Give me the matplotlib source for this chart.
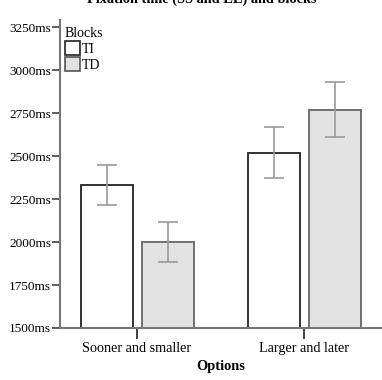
import numpy as np
import matplotlib.pyplot as plt
from matplotlib.patches import Patch

plt.rcParams['font.family'] = ['Liberation Serif', 'DejaVu Serif']

options = ["Sooner and smaller", "Larger and later"]
blocks = ["TI", "TD"]
ti_mean = [2331, 2517]
ti_low = [2215, 2372]
ti_high = [2448, 2669]
td_mean = [2000, 2767]
td_low = [1884, 2610]
td_high = [2116, 2930]

fig = plt.figure(figsize=(3.82, 3.80), dpi=100)
ax = fig.add_axes([60 / 382, (380 - 328) / 380, 322 / 382, 308 / 380])

x = np.arange(len(options))
w = 0.311
err_kw = dict(ecolor="#9a9a9a", elinewidth=1.2, capsize=7, capthick=1.2)

ti_err = [np.array(ti_mean) - np.array(ti_low), np.array(ti_high) - np.array(ti_mean)]
td_err = [np.array(td_mean) - np.array(td_low), np.array(td_high) - np.array(td_mean)]

ax.bar(x - 0.18, np.array(ti_mean) - 1500, w, bottom=1500, color="white",
       edgecolor="#222222", linewidth=1.3, yerr=ti_err, error_kw=err_kw, zorder=2)
ax.bar(x + 0.186, np.array(td_mean) - 1500, w, bottom=1500, color="#e3e3e3",
       edgecolor="#666666", linewidth=1.3, yerr=td_err, error_kw=err_kw, zorder=2)

ax.set_ylim(1500, 3291)
ax.set_xlim(-0.461, 1.467)
yt = np.arange(1500, 3251, 250)
ax.set_yticks(yt)
ax.set_yticklabels([f"{v}ms" for v in yt], fontsize=9.5)
ax.set_xticks(x)
ax.set_xticklabels(options, fontsize=10.2)
ax.tick_params(axis="y", length=6, width=1.2, color="#444444", pad=0.5)
ax.tick_params(axis="x", length=8, width=1.2, color="#222222", pad=2)

for s in ["top", "right"]:
    ax.spines[s].set_visible(False)
ax.spines["left"].set_color("#777777")
ax.spines["left"].set_linewidth(1.5)
ax.spines["bottom"].set_color("#777777")
ax.spines["bottom"].set_linewidth(1.5)

ax.set_xlabel("Options", fontsize=10.4, fontweight="bold", labelpad=4)

handles = [Patch(facecolor="white", edgecolor="#222222", linewidth=1.2),
           Patch(facecolor="#e3e3e3", edgecolor="#555555", linewidth=1.2)]
leg = ax.legend(handles, blocks, title="Blocks", loc="upper left",
                bbox_to_anchor=(-0.015, 1.01), frameon=False, fontsize=10,
                title_fontsize=10, handlelength=1.1, handleheight=1.1,
                handletextpad=0.1, labelspacing=0.12, borderpad=0.2)
leg._legend_box.align = "left"

fig.text(202 / 382, 1.003, "Fixation time (SS and LL) and blocks", ha="center",
         va="center", fontsize=10.3, fontweight="bold")
fig.text(-0.012, 0.55, "Fixation time", rotation=90, ha="center", va="center",
         fontsize=9, color="#888888")

fig.savefig("out.png", dpi=100)
